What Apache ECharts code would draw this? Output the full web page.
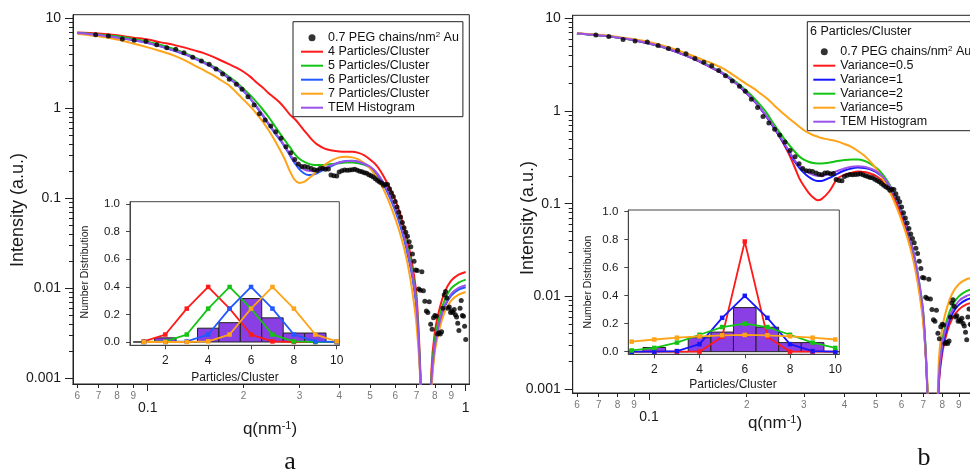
<!DOCTYPE html>
<html><head><meta charset="utf-8">
<script src="https://cdn.jsdelivr.net/npm/echarts@6/dist/echarts.min.js"></script>
<style>html,body{margin:0;padding:0;background:#fff}#c{width:970px;height:471px}</style>
</head><body><div id="c"></div>
<script>
// ---------------- DATA ----------------
const qCurve = [0.06,0.07,0.08,0.09,0.10,0.11,0.12,0.13,0.14,0.15,
  0.16,0.17,0.18,0.19,0.20,0.21,0.22,0.23,0.24,0.25,
  0.26,0.27,0.28,0.29,0.30,0.31,0.32,0.33,0.34,
  0.36,0.38,0.40,0.42,0.44,0.46,0.48,0.50,0.52,0.54,
  0.56,0.58,0.60,0.62,0.64,0.66,0.68,0.70,0.72,
  0.75,0.78,0.80,0.83,0.86,0.90,0.95,1.0];

// panel a
const a4 = [6.95,6.8,6.5,6.1,5.8,5.4,5.1,4.75,4.4,4.1, 3.75,3.4,3.1,2.83,2.55,2.25,1.93,1.7,1.47,1.31, 1.16,1.0,0.85,0.76,0.66,0.57,0.5,0.44,0.4, 0.357,0.34,0.332,0.33,0.33,0.32,0.3,0.27,0.24,0.2, 0.16,0.125,0.097,0.07,0.047,0.031,0.018,0.0085,0.0012, 0.00001,0.0012,0.0033,0.0062,0.0092,0.0122,0.0142,0.0152];
const a5 = [6.9,6.6,6.3,5.9,5.5,5.05,4.6,4.15,3.7,3.3, 2.95,2.6,2.25,1.95,1.65,1.4,1.17,0.97,0.8,0.65, 0.53,0.44,0.37,0.31,0.275,0.255,0.243,0.236,0.234, 0.235,0.24,0.245,0.25,0.25,0.245,0.235,0.22,0.195,0.165, 0.135,0.105,0.08,0.058,0.04,0.026,0.015,0.007,0.0011, 0.00001,0.001,0.0027,0.0051,0.0075,0.01,0.0116,0.0125];
const a6 = [6.85,6.5,6.1,5.7,5.3,4.85,4.4,4.0,3.6,3.2, 2.85,2.5,2.15,1.85,1.55,1.28,1.03,0.83,0.66,0.54, 0.45,0.37,0.3,0.245,0.21,0.19,0.182,0.183,0.19, 0.21,0.23,0.25,0.26,0.262,0.255,0.24,0.22,0.193,0.16, 0.128,0.098,0.073,0.052,0.035,0.022,0.013,0.006,0.001, 0.00001,0.0008,0.0022,0.0042,0.0063,0.0083,0.0097,0.0103];
const a7 = [6.75,6.3,5.8,5.25,4.75,4.3,3.9,3.45,3.0,2.65, 2.35,2.05,1.8,1.5,1.25,1.05,0.87,0.71,0.57,0.45, 0.35,0.27,0.2,0.16,0.148,0.152,0.165,0.18,0.2, 0.235,0.265,0.285,0.29,0.285,0.27,0.245,0.215,0.18,0.145, 0.112,0.083,0.06,0.042,0.028,0.017,0.009,0.004,0.0009, 0.00001,0.0007,0.002,0.0037,0.0055,0.0073,0.0085,0.0091];
const aTEM = [6.87,6.52,6.12,5.72,5.32,4.88,4.43,4.03,3.63,3.23, 2.88,2.53,2.18,1.88,1.58,1.3,1.05,0.85,0.68,0.555, 0.46,0.38,0.31,0.258,0.228,0.21,0.202,0.2,0.203, 0.217,0.235,0.25,0.258,0.26,0.255,0.242,0.225,0.2,0.168, 0.135,0.104,0.078,0.056,0.038,0.024,0.014,0.0065,0.001, 0.00001,0.0009,0.0023,0.0044,0.0065,0.0087,0.0101,0.0108];

// panel b
const bVar05 = [6.85,6.55,6.2,5.8,5.35,4.9,4.4,3.95,3.55,3.15, 2.8,2.5,2.15,1.85,1.55,1.3,1.07,0.87,0.7,0.56, 0.44,0.34,0.255,0.19,0.155,0.132,0.117,0.109,0.112, 0.137,0.185,0.205,0.215,0.222,0.22,0.212,0.2,0.18,0.155, 0.127,0.098,0.073,0.052,0.035,0.022,0.012,0.0055,0.001, 0.00001,0.001,0.0024,0.0042,0.0058,0.0072,0.0082,0.0086];
const bVar1 = [6.85,6.55,6.2,5.8,5.35,4.9,4.4,3.95,3.55,3.15, 2.8,2.5,2.15,1.85,1.55,1.3,1.07,0.87,0.7,0.56, 0.45,0.36,0.29,0.245,0.215,0.195,0.182,0.176,0.176, 0.19,0.21,0.228,0.24,0.245,0.243,0.235,0.22,0.198,0.17, 0.14,0.11,0.082,0.058,0.039,0.024,0.013,0.006,0.001, 0.00001,0.0011,0.0027,0.0047,0.0065,0.0081,0.0092,0.0097];
const bVar2 = [6.87,6.57,6.22,5.82,5.38,4.93,4.45,4.0,3.6,3.2, 2.85,2.55,2.22,1.92,1.64,1.39,1.16,0.96,0.76,0.62, 0.51,0.43,0.37,0.325,0.298,0.283,0.275,0.272,0.272, 0.278,0.288,0.296,0.3,0.3,0.29,0.27,0.245,0.215,0.18, 0.145,0.112,0.084,0.06,0.04,0.025,0.014,0.0065,0.0011, 0.00001,0.0013,0.0033,0.0058,0.008,0.01,0.0114,0.012];
const bVar5 = [6.9,6.65,6.3,5.95,5.55,5.1,4.65,4.2,3.8,3.45, 3.15,2.85,2.5,2.2,1.95,1.75,1.55,1.38,1.2,1.05, 0.93,0.83,0.75,0.68,0.62,0.58,0.55,0.53,0.51, 0.49,0.47,0.44,0.41,0.37,0.33,0.285,0.24,0.195,0.155, 0.12,0.09,0.066,0.047,0.032,0.02,0.011,0.005,0.0012, 0.00001,0.0018,0.0045,0.0078,0.0108,0.0135,0.0153,0.016];
const bTEM = [6.87,6.57,6.22,5.82,5.37,4.92,4.42,3.97,3.57,3.17, 2.82,2.52,2.17,1.87,1.57,1.31,1.08,0.88,0.71,0.57, 0.46,0.37,0.3,0.258,0.232,0.215,0.205,0.2,0.2, 0.21,0.225,0.24,0.25,0.253,0.25,0.24,0.225,0.202,0.173, 0.142,0.112,0.083,0.059,0.04,0.025,0.014,0.0065,0.001, 0.00001,0.0012,0.003,0.0052,0.0071,0.0089,0.0101,0.0106];

// measured SAXS points (q, I)
const peg07 = [[0.0686,6.58],[0.0752,6.36],[0.0832,5.89],[0.0906,5.70],[0.0988,5.55],[0.1067,5.09],[0.1148,4.71],[0.1225,4.52],[0.130,4.15],[0.1385,3.69],
[0.1475,3.36],[0.156,3.08],[0.164,2.74],[0.172,2.40],[0.1805,2.10],[0.190,1.85],[0.198,1.63],[0.2067,1.34],[0.216,1.09],[0.2245,0.87],
[0.234,0.74],[0.2438,0.635],[0.2527,0.55],[0.2625,0.464],[0.272,0.374],[0.2818,0.32],[0.290,0.27],[0.2976,0.24],[0.305,0.226],[0.312,0.225],
[0.319,0.222],[0.327,0.214],[0.334,0.208],[0.341,0.205],[0.348,0.214],[0.355,0.216],[0.362,0.21],[0.370,0.212],[0.377,0.182],[0.385,0.178],
[0.393,0.177],[0.400,0.196],[0.408,0.203],[0.416,0.206],[0.424,0.205],[0.432,0.207],[0.440,0.208],[0.448,0.21],[0.456,0.205],[0.464,0.2],
[0.472,0.197],[0.480,0.192],[0.488,0.19],[0.496,0.183],[0.504,0.178],[0.512,0.172],[0.520,0.165],[0.528,0.158],[0.536,0.152],[0.544,0.148],
[0.552,0.14],[0.560,0.143],[0.568,0.142],[0.576,0.128],[0.584,0.115],[0.592,0.105],[0.600,0.092],[0.608,0.08],[0.616,0.07],[0.624,0.062],
[0.632,0.054],[0.640,0.047],[0.648,0.042],[0.656,0.038],[0.664,0.033],[0.672,0.029],[0.680,0.024],[0.688,0.02],[0.696,0.016],[0.704,0.0158],
[0.712,0.0098],[0.720,0.0095],[0.728,0.0153],[0.736,0.0094],[0.744,0.0072],[0.752,0.0056],[0.760,0.0054],[0.768,0.0071],[0.776,0.004],[0.784,0.0035],
[0.792,0.0047],[0.800,0.005],[0.808,0.0049],[0.816,0.0031],[0.824,0.0032],[0.832,0.0031],[0.840,0.0033],[0.848,0.006],[0.856,0.0085],[0.864,0.0092],
[0.872,0.0078],[0.880,0.006],[0.888,0.0062],[0.896,0.0054],[0.904,0.0056],[0.912,0.0054],[0.920,0.0058],[0.928,0.0051],[0.936,0.0048],[0.944,0.0041],
[0.952,0.0034],[0.960,0.006],[0.968,0.0073],[0.976,0.005],[0.984,0.0049],[0.992,0.0038],[1.000,0.0027]];

// insets
const clusterN = [1,2,3,4,5,6,7,8,9,10];
const temHist = [0,0.03,0,0.1,0.14,0.315,0.175,0.065,0.065,0];
const dist4 = [0.0044,0.054,0.242,0.399,0.242,0.054,0.0044,0.0001,0,0];
const dist5 = [0.0001,0.0044,0.054,0.242,0.399,0.242,0.054,0.0044,0.0001,0];
const dist6 = [0,0.0001,0.0044,0.054,0.242,0.399,0.242,0.054,0.0044,0.0001];
const dist7 = [0,0,0.0001,0.0044,0.054,0.242,0.399,0.242,0.054,0.0044];
const distV05 = [0,0,0,0.0003,0.107,0.787,0.107,0.0003,0,0];
const distV1 = [0,0.0001,0.0044,0.054,0.242,0.399,0.242,0.054,0.0044,0.0001];
const distV2 = [0.009,0.027,0.065,0.121,0.176,0.2,0.176,0.121,0.065,0.027];
const distV5 = [0.072,0.087,0.1,0.11,0.117,0.12,0.117,0.11,0.1,0.087];

// tick labels
const xMajorTicks = [0.1, 1];
const xMajorLabels = ['0.1', '1'];
const xMinorTicks = [0.06,0.07,0.08,0.09,0.2,0.3,0.4,0.5,0.6,0.7,0.8,0.9];
const xMinorLabels = ['6','7','8','9','2','3','4','5','6','7','8','9'];
const yMajorTicks = [10, 1, 0.1, 0.01, 0.001];
const yMajorLabels = ['10', '1', '0.1', '0.01', '0.001'];
const yMinorTicks = [2,3,4,5,6,7,8,9].flatMap(k => [0.001,0.01,0.1,1].map(d => k * d));
const insetXTicks = [2,4,6,8,10];
const insetXLabels = ['2','4','6','8','10'];
const insetYTicks = [0,0.2,0.4,0.6,0.8,1.0];
const insetYLabels = ['0.0','0.2','0.4','0.6','0.8','1.0'];

// ---------------- STYLE / BUILD ----------------
const FONT = '"Liberation Sans", Arial, Helvetica, sans-serif';
const TXT = '#1a1a1a';
const C = {red:'#ff1a1a', green:'#14c414', blueA:'#2259ff', blueB:'#1515ff', orange:'#ffa319', purple:'#9a52ea', bar:'#8a3fe4'};
const DOTS = '0.7 PEG chains/nm2 Au';

const L = v => Math.log10(v);
const curve = arr => qCurve.map((q, i) => [L(q), L(arr[i])]);
const dots = peg07.map(p => [L(p[0]), L(p[1])]);
const lookup = (ticks, labels, logSpace) => v => {
  for (let i = 0; i < ticks.length; i++) {
    const t = logSpace ? L(ticks[i]) : ticks[i];
    if (Math.abs(t - v) < 1e-6) return labels[i];
  }
  return '';
};

const XMIN = -1.235, XMAX = 0.0113;
function mainAxes(grid, ymin, ymax) {
  const base = {type:'value', gridIndex:grid, min:XMIN, max:XMAX, position:'bottom', splitLine:{show:false},
    axisLine:{show:true, onZero:false, lineStyle:{color:'#222', width:1}}};
  const xs = [
    Object.assign({}, base, {
      axisTick:{show:true, customValues:xMajorTicks.map(L), length:7, lineStyle:{color:'#222'}},
      axisLabel:{show:true, customValues:xMajorTicks.map(L), formatter:lookup(xMajorTicks, xMajorLabels, true), margin:17, fontSize:14, color:TXT, fontFamily:FONT}
    }),
    Object.assign({}, base, {
      axisTick:{show:true, customValues:xMinorTicks.map(L), length:4, lineStyle:{color:'#222'}},
      axisLabel:{show:true, customValues:xMinorTicks.map(L), formatter:lookup(xMinorTicks, xMinorLabels, true), margin:7, fontSize:10, color:'#777', fontFamily:FONT}
    })
  ];
  const ybase = {type:'value', gridIndex:grid, min:ymin, max:ymax, position:'left', splitLine:{show:false},
    axisLine:{show:true, onZero:false, lineStyle:{color:'#222', width:1}}};
  const ys = [
    Object.assign({}, ybase, {
      axisTick:{show:true, customValues:yMajorTicks.map(L), length:8, lineStyle:{color:'#222'}},
      axisLabel:{show:true, customValues:yMajorTicks.map(L), formatter:lookup(yMajorTicks, yMajorLabels, true), margin:12, fontSize:14, color:TXT, fontFamily:FONT}
    }),
    Object.assign({}, ybase, {
      axisTick:{show:true, customValues:yMinorTicks.map(L), length:4, lineStyle:{color:'#222'}},
      axisLabel:{show:false}
    })
  ];
  return {xs, ys};
}
function insetAxes(grid, xmin, xmax, ymin, ymax) {
  return {
    x: {type:'value', gridIndex:grid, min:xmin, max:xmax, position:'bottom', splitLine:{show:false},
      axisLine:{show:true, onZero:false, lineStyle:{color:'#444'}},
      axisTick:{show:true, customValues:insetXTicks, length:4, lineStyle:{color:'#444'}},
      axisLabel:{show:true, customValues:insetXTicks, formatter:lookup(insetXTicks, insetXLabels, false), margin:9, fontSize:12, color:TXT, fontFamily:FONT}},
    y: {type:'value', gridIndex:grid, min:ymin, max:ymax, position:'left', splitLine:{show:false},
      axisLine:{show:true, onZero:false, lineStyle:{color:'#444'}},
      axisTick:{show:true, customValues:insetYTicks, length:4, lineStyle:{color:'#444'}},
      axisLabel:{show:true, customValues:insetYTicks, formatter:lookup(insetYTicks, insetYLabels, false), margin:10, fontSize:11.5, color:TXT, fontFamily:FONT}}
  };
}

const mA = mainAxes(0, -3.063, 1.04);
const mB = mainAxes(1, -3.042, 1.032);
const iA = insetAxes(2, 0.35, 10.12, -0.024, 1.017);
const iB = insetAxes(3, 0.85, 10.18, -0.0186, 1.012);

const xAxis = [mA.xs[0], mA.xs[1], mB.xs[0], mB.xs[1], iA.x, iB.x];
const yAxis = [mA.ys[0], mA.ys[1], mB.ys[0], mB.ys[1], iA.y, iB.y];

function lineS(name, arr, color, xi, yi) {
  return {type:'line', name, data:curve(arr), xAxisIndex:xi, yAxisIndex:yi, symbol:'none', showSymbol:false,
    smooth:0.3, clip:true, lineStyle:{color, width:2}, itemStyle:{color}, z:3, silent:true};
}
function dotS(xi, yi) {
  return {type:'scatter', name:DOTS, data:dots, xAxisIndex:xi, yAxisIndex:yi, symbol:'circle', symbolSize:5,
    itemStyle:{color:'#000'}, clip:true, z:5, silent:true};
}
function histS(xi, yi) {
  return {type:'custom', name:'hist'+xi, xAxisIndex:xi, yAxisIndex:yi, z:2, silent:true,
    data: clusterN.map((n, i) => [n, temHist[i]]),
    renderItem: (params, api) => {
      const x = api.value(0), v = api.value(1);
      const p1 = api.coord([x - 0.5, v]), p2 = api.coord([x + 0.5, 0]);
      const cs = params.coordSys;
      const x1 = Math.max(p1[0], cs.x), x2 = Math.min(p2[0], cs.x + cs.width);
      if (x2 <= x1) return null;
      return {type:'rect', shape:{x:x1, y:p1[1], width:x2 - x1, height:p2[1] - p1[1]},
        style:{fill:C.bar, stroke:'#222', lineWidth:1}};
    }};
}
function distS(name, arr, color, xi, yi) {
  return {type:'line', name, data:clusterN.map((n, i) => [n, arr[i]]), xAxisIndex:xi, yAxisIndex:yi,
    symbol:'rect', symbolSize:4.5, showSymbol:true, lineStyle:{color, width:1.8}, itemStyle:{color}, z:4, silent:true};
}

const HIDE_SYM = {color:'rgba(0,0,0,0)', borderColor:'rgba(0,0,0,0)', borderWidth:0, opacity:0};
const legItems = names => names.map(n => n === DOTS ? {name:n, icon:'circle'} : {name:n, itemStyle:HIDE_SYM});

const legendBase = {orient:'vertical', itemWidth:22, itemHeight:7, itemGap:0, selectedMode:false,
  borderColor:'#222', borderWidth:1, backgroundColor:'#fff',
  formatter: n => n === DOTS ? '0.7 PEG chains/nm{sup|2} Au' : n,
  textStyle:{fontSize:12.5, color:'#111', lineHeight:14, fontFamily:FONT,
    rich:{sup:{fontSize:8, verticalAlign:'top', lineHeight:10, color:'#111', fontFamily:FONT}}}};

const titleStyle = (text, size) => ({text, fontSize:size, fontFamily:FONT, fill:TXT, align:'center', verticalAlign:'middle',
  rich:{sup:{fontSize:Math.round(size*0.62), fontFamily:FONT, fill:TXT, verticalAlign:'top', lineHeight:10}}});

const option = {
  animation:false,
  backgroundColor:'#fff',
  textStyle:{fontFamily:FONT},
  grid:[
    {left:73, top:14.7, width:396.3, height:369.3, show:true, borderColor:'#222', borderWidth:1, backgroundColor:'rgba(0,0,0,0)', containLabel:false, outerBoundsMode:'none'},
    {left:572.7, top:15.3, width:404.6, height:377.7, show:true, borderColor:'#222', borderWidth:1, backgroundColor:'rgba(0,0,0,0)', containLabel:false, outerBoundsMode:'none'},
    {left:130, top:201.7, width:209.3, height:143.6, show:true, borderColor:'#444', borderWidth:1, backgroundColor:'#fff', containLabel:false, outerBoundsMode:'none'},
    {left:628.3, top:210, width:211, height:144.3, show:true, borderColor:'#444', borderWidth:1, backgroundColor:'#fff', containLabel:false, outerBoundsMode:'none'}
  ],
  xAxis, yAxis,
  legend:[
    Object.assign({}, legendBase, {left:293, top:21.7, padding:[9,4,2,7],
      data:legItems([DOTS,'4 Particles/Cluster','5 Particles/Cluster','6 Particles/Cluster','7 Particles/Cluster','TEM Histogram'])}),
    Object.assign({}, legendBase, {left:807.3, top:21.7, padding:[23,30,2,5],
      data:legItems([DOTS,'Variance=0.5','Variance=1','Variance=2','Variance=5','TEM Histogram '])})
  ],
  graphic:[
    {type:'text', x:18, y:210, rotation:Math.PI/2, z:100, style:titleStyle('Intensity (a.u.)', 18)},
    {type:'text', x:528, y:218, rotation:Math.PI/2, z:100, style:titleStyle('Intensity (a.u.)', 18)},
    {type:'text', x:270, y:429, z:100, style:titleStyle('q(nm{sup|-1})', 17)},
    {type:'text', x:775, y:423, z:100, style:titleStyle('q(nm{sup|-1})', 17)},
    {type:'text', x:85, y:272, rotation:Math.PI/2, z:100, style:titleStyle('Number Distribution', 10.5)},
    {type:'text', x:588, y:282, rotation:Math.PI/2, z:100, style:titleStyle('Number Distribution', 10.5)},
    {type:'text', x:235, y:377.5, z:100, style:titleStyle('Particles/Cluster', 12)},
    {type:'text', x:733, y:385, z:100, style:titleStyle('Particles/Cluster', 12)},
    {type:'text', x:810, y:31.7, z:100, style:{text:'6 Particles/Cluster', fontSize:12.5, fontFamily:FONT, fill:'#111', align:'left', verticalAlign:'middle'}},
    {type:'text', x:290, y:462, z:100, style:{text:'a', fontSize:26, fontFamily:'"Liberation Serif", "DejaVu Serif", serif', fill:'#111', align:'center', verticalAlign:'middle'}},
    {type:'text', x:924, y:458, z:100, style:{text:'b', fontSize:26, fontFamily:'"Liberation Serif", "DejaVu Serif", serif', fill:'#111', align:'center', verticalAlign:'middle'}}
  ],
  series:[
    dotS(0, 0),
    lineS('4 Particles/Cluster', a4, C.red, 0, 0),
    lineS('5 Particles/Cluster', a5, C.green, 0, 0),
    lineS('6 Particles/Cluster', a6, C.blueA, 0, 0),
    lineS('7 Particles/Cluster', a7, C.orange, 0, 0),
    lineS('TEM Histogram', aTEM, C.purple, 0, 0),
    dotS(2, 2),
    lineS('Variance=0.5', bVar05, C.red, 2, 2),
    lineS('Variance=1', bVar1, C.blueB, 2, 2),
    lineS('Variance=2', bVar2, C.green, 2, 2),
    lineS('Variance=5', bVar5, C.orange, 2, 2),
    lineS('TEM Histogram ', bTEM, C.purple, 2, 2),
    histS(4, 4),
    distS('n4', dist4, C.red, 4, 4),
    distS('n5', dist5, C.green, 4, 4),
    distS('n6', dist6, C.blueA, 4, 4),
    distS('n7', dist7, C.orange, 4, 4),
    histS(5, 5),
    distS('v05', distV05, C.red, 5, 5),
    distS('v1', distV1, C.blueB, 5, 5),
    distS('v2', distV2, C.green, 5, 5),
    distS('v5', distV5, C.orange, 5, 5)
  ]
};
const chart = echarts.init(document.getElementById('c'), null, {renderer:'canvas'});
chart.setOption(option);
</script>
</body></html>
